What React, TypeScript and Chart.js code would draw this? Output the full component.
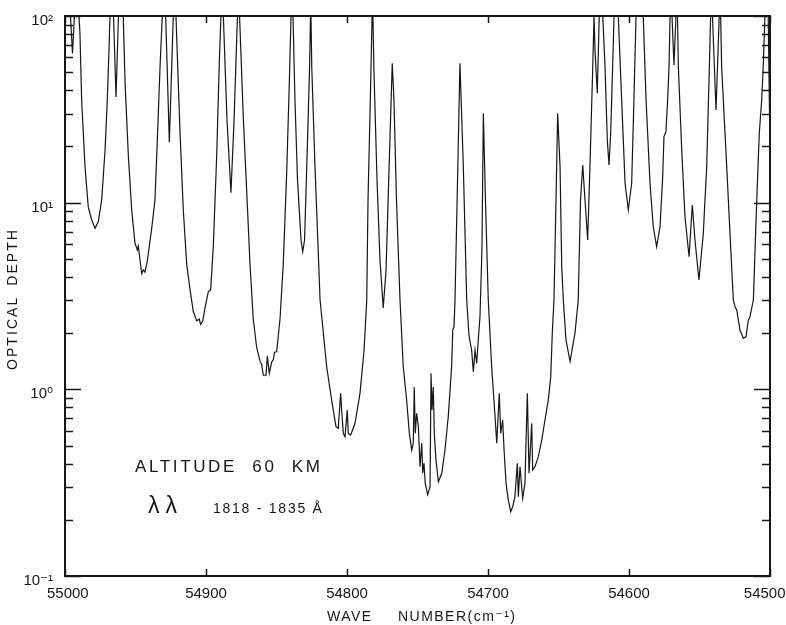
import React, { useEffect, useRef } from 'react';
import { Chart, registerables } from 'chart.js';

Chart.register(...registerables);

// Wave number (cm^-1) of each traced point, and the optical depth read there.
// Values of 300 / 120 / 130 stand for the trace running off the top (> 100).
const wavenumbers = [
  55000, 54996.1, 54994.7, 54993.3, 54991.8, 54990.1, 54989.4, 54988.2, 54985.8, 54983.5,
  54981.1, 54978.7, 54976.4, 54974.0, 54971.6, 54970.0, 54968.8, 54968.1, 54966.7, 54965.6,
  54963.8, 54962.1, 54960.3, 54958.7, 54957.4, 54955.1, 54952.7, 54950.4, 54948.7, 54948.0,
  54945.6, 54944.5, 54943.3, 54941.6, 54938.5, 54936.2, 54934.8, 54932.6, 54931.0, 54929.8,
  54928.6, 54926.0, 54923.2, 54922.2, 54921.3, 54918.4, 54916.1, 54913.7, 54911.3, 54909.0,
  54906.6, 54904.8, 54903.8, 54902.3, 54900.7, 54898.4, 54896.7, 54894.8, 54892.4, 54890.6,
  54889.4, 54888.5, 54887.7, 54885.1, 54882.3, 54880.1, 54877.7, 54876.9, 54876.2, 54873.5,
  54871.1, 54868.8, 54866.5, 54864.0, 54861.7, 54860.5, 54859.4, 54857.4, 54856.5, 54855.1,
  54853.4, 54852.3, 54851.4, 54849.9, 54847.5, 54845.2, 54842.8, 54840.9, 54839.7, 54839.0,
  54838.3, 54836.9, 54835.1, 54832.6, 54831.4, 54830.1, 54828.4, 54826.6, 54825.7, 54825.0,
  54822.7, 54819.1, 54814.4, 54810.9, 54807.8, 54806.2, 54804.5, 54803.8, 54802.6, 54801.4,
  54799.8, 54799.1, 54797.4, 54794.3, 54790.8, 54787.9, 54786.0, 54785.1, 54783.3, 54781.9,
  54780.9, 54778.7, 54776.6, 54774.3, 54772.3, 54770.2, 54767.9, 54766.7, 54764.9, 54762.4,
  54760.1, 54757.7, 54755.8, 54754.1, 54753.0, 54752.3, 54751.6, 54750.6, 54749.4, 54748.2,
  54747.0, 54746.3, 54745.4, 54744.5, 54742.8, 54741.1, 54740.4, 54739.7, 54738.8, 54738.1,
  54736.9, 54735.2, 54732.8, 54730.5, 54728.2, 54725.8, 54725.0, 54724.1, 54723.4, 54721.6,
  54719.9, 54718.8, 54717.5, 54715.1, 54713.5, 54711.6, 54710.4, 54709.2, 54708.0, 54706.9,
  54705.7, 54704.3, 54703.3, 54701.8, 54699.8, 54697.4, 54695.0, 54693.8, 54692.0, 54691.0,
  54689.6, 54688.6, 54687.2, 54685.6, 54683.9, 54682.5, 54680.9, 54679.2, 54678.5, 54677.3,
  54676.1, 54675.4, 54673.8, 54672.1, 54670.9, 54669.0, 54668.3, 54666.7, 54664.3, 54661.9,
  54659.6, 54657.2, 54655.5, 54654.4, 54653.2, 54651.3, 54650.6, 54648.9, 54647.7, 54646.6,
  54644.7, 54641.8, 54638.3, 54636.0, 54634.4, 54632.8, 54631.2, 54629.3, 54627.7, 54625.7,
  54624.8, 54624.1, 54622.5, 54621.1, 54619.9, 54618.6, 54617.0, 54615.4, 54614.2, 54613.0,
  54611.6, 54610.6, 54609.2, 54607.6, 54605.2, 54602.8, 54600.5, 54598.1, 54596.5, 54595.0,
  54592.2, 54589.9, 54587.9, 54585.1, 54582.8, 54580.4, 54578.0, 54576.1, 54575.2, 54573.8,
  54572.6, 54571.6, 54570.9, 54570.2, 54569.5, 54568.1, 54566.7, 54566.0, 54565.6, 54565.0,
  54562.6, 54560.3, 54557.4, 54555.1, 54553.2, 54550.4, 54547.3, 54544.9, 54543.0, 54542.1,
  54541.5, 54540.8, 54538.3, 54536.0, 54535.5, 54535.0, 54534.3, 54530.7, 54527.2, 54526.0,
  54524.8, 54523.6, 54521.3, 54518.9, 54517.0, 54515.4, 54514.2, 54511.8, 54509.4, 54507.6,
  54505.9, 54504.8, 54503.6, 54502.1, 54500,
];

const opticalDepth = [
  300, 100, 63, 100, 300, 100, 81, 35.5, 15.5, 9.5,
  8.1, 7.3, 7.9, 10.3, 19.1, 35.5, 65.7, 100, 300, 100,
  36.8, 100, 300, 100, 43.8, 18.0, 9.14, 6.08, 5.58, 5.86,
  4.17, 4.36, 4.25, 4.87, 7.31, 10.3, 19.1, 53.3, 100, 300,
  100, 21.1, 100, 300, 100, 23.6, 9.14, 4.69, 3.41, 2.61,
  2.33, 2.38, 2.23, 2.32, 2.73, 3.33, 3.41, 5.86, 18.0, 55.0,
  100, 300, 100, 27.7, 11.3, 27.7, 100, 300, 100, 28.1,
  11.4, 4.69, 2.38, 1.66, 1.42, 1.36, 1.19, 1.19, 1.51, 1.22,
  1.40, 1.44, 1.58, 1.59, 2.38, 4.69, 14.3, 43.9, 100, 300,
  100, 35.5, 13.2, 6.31, 5.46, 6.31, 16.9, 51.4, 120, 53.5,
  15.6, 3.01, 1.32, 0.877, 0.631, 0.618, 0.952, 0.775, 0.581, 0.557,
  0.775, 0.581, 0.569, 0.658, 0.952, 1.62, 3.01, 10.3, 40.1, 130,
  51.4, 13.2, 4.93, 2.73, 4.36, 15.0, 55.8, 35.5, 10.3, 3.01,
  1.32, 0.877, 0.581, 0.473, 0.516, 1.03, 0.581, 0.744, 0.631, 0.385,
  0.516, 0.356, 0.403, 0.314, 0.272, 0.301, 1.22, 0.775, 1.03, 0.581,
  0.418, 0.320, 0.355, 0.473, 0.713, 1.32, 2.08, 2.17, 3.01, 13.2,
  55.8, 31.4, 15.6, 3.01, 1.95, 1.62, 1.24, 1.62, 1.38, 1.84,
  2.45, 5.58, 30.1, 10.3, 3.01, 1.32, 0.713, 0.514, 0.952, 0.581,
  0.685, 0.473, 0.314, 0.255, 0.221, 0.235, 0.266, 0.402, 0.266, 0.385,
  0.301, 0.261, 0.314, 0.952, 0.355, 0.658, 0.370, 0.385, 0.436, 0.535,
  0.685, 0.877, 1.17, 2.00, 3.01, 15.6, 30.1, 15.6, 4.54, 3.01,
  1.84, 1.41, 2.00, 3.01, 10.3, 15.9, 10.3, 6.31, 15.6, 53.5,
  100, 65.7, 38.5, 100, 300, 100, 53.5, 21.7, 15.9, 23.5,
  53.5, 100, 300, 100, 35.5, 12.7, 9.14, 12.7, 35.5, 100,
  300, 100, 35.5, 12.7, 7.43, 5.81, 7.43, 13.8, 22.6, 24.0,
  35.5, 53.5, 100, 300, 100, 54.6, 100, 300, 100, 53.5,
  19.1, 8.41, 5.13, 9.72, 6.31, 3.85, 6.85, 15.6, 53.5, 100,
  300, 100, 31.4, 100, 300, 100, 53.5, 15.6, 4.54, 3.01,
  2.77, 2.66, 2.08, 1.88, 1.91, 2.35, 2.45, 3.01, 10.3, 23.5,
  35.5, 53.5, 100, 300, 19.1,
];

const xTickValues = [55000, 54900, 54800, 54700, 54600, 54500];
const yDecades = [0.1, 1, 10, 100];
const yMinorSteps = [2, 3, 4, 5, 6, 7, 8, 9];

const xTitle = 'WAVE NUMBER(cm\u207B\u00B9)';
const yTitle = 'OPTICAL DEPTH';
const altitudeText = 'ALTITUDE 60 KM';
const lambdaText = '\u03BB\u03BB';
const rangeText = '1818 - 1835 \u00C5';

const SUP: Record<string, string> = { '-': '\u207B', '0': '\u2070', '1': '\u00B9', '2': '\u00B2', '3': '\u00B3' };
const FONT = '"Liberation Sans", "DejaVu Sans", Arial, sans-serif';
const INK = '#161616';

function decadeLabel(v: number): string {
  const e = Math.log10(v);
  const r = Math.round(e);
  if (Math.abs(e - r) > 1e-6) return '';
  return '10' + String(r).split('').map((c) => SUP[c] ?? c).join('');
}

// draws text starting at x so that it spans `width` px, spreading letters evenly;
// `wordGap` adds extra room at each space.
function drawFitted(
  ctx: CanvasRenderingContext2D,
  text: string,
  x: number,
  y: number,
  width: number,
  font: string,
  wordGap = 0,
) {
  const c = ctx as any;
  ctx.font = font;
  c.letterSpacing = '0px';
  c.wordSpacing = '0px';
  const w = ctx.measureText(text).width;
  const chars = Array.from(text);
  const n = chars.length;
  const spaces = chars.filter((ch) => ch === ' ').length;
  const sp = n > 1 ? (width - w - wordGap * spaces) / (n - 1) : 0;
  c.letterSpacing = sp.toFixed(2) + 'px';
  c.wordSpacing = wordGap + 'px';
  ctx.textAlign = 'left';
  ctx.textBaseline = 'alphabetic';
  ctx.fillText(text, x, y);
  c.letterSpacing = '0px';
  c.wordSpacing = '0px';
}

const framePlugin = {
  id: 'plotterFrame',
  afterDraw(chart: any) {
    const { ctx, chartArea: a, scales } = chart;
    const xs = scales.x;
    const ys = scales.y;
    ctx.save();
    ctx.strokeStyle = INK;
    ctx.fillStyle = INK;
    ctx.lineCap = 'butt';
    // inward ticks, left and right
    ctx.lineWidth = 1.5;
    ctx.beginPath();
    yDecades.forEach((d, i) => {
      const steps = i < yDecades.length - 1 ? [1, ...yMinorSteps] : [1];
      steps.forEach((m) => {
        const py = Math.round(ys.getPixelForValue(d * m)) + 0.5;
        const len = m === 1 ? 16 : 8;
        ctx.moveTo(a.left, py);
        ctx.lineTo(a.left + len, py);
        ctx.moveTo(a.right, py);
        ctx.lineTo(a.right - len, py);
      });
    });
    // inward ticks, bottom and top
    xTickValues.forEach((v) => {
      const px = Math.round(xs.getPixelForValue(v)) + 0.5;
      ctx.moveTo(px, a.bottom);
      ctx.lineTo(px, a.bottom - 7);
      ctx.moveTo(px, a.top);
      ctx.lineTo(px, a.top + 7);
    });
    ctx.stroke();
    // frame
    ctx.lineWidth = 2;
    ctx.strokeRect(a.left, a.top, a.right - a.left, a.bottom - a.top);

    // x tick labels (kept inside the page at both ends)
    ctx.font = `15px ${FONT}`;
    ctx.textAlign = 'center';
    ctx.textBaseline = 'alphabetic';
    xTickValues.forEach((v) => {
      const label = String(v);
      const half = ctx.measureText(label).width / 2;
      const px = xs.getPixelForValue(v);
      const cx = Math.min(Math.max(px, 47 + half), chart.width - half - 0.5);
      ctx.fillText(label, cx, 598);
    });

    // axis titles
    drawFitted(ctx, xTitle, 327, 621, 188, `14px ${FONT}`, 20);
    ctx.save();
    ctx.translate(17, 370);
    ctx.rotate(-Math.PI / 2);
    drawFitted(ctx, yTitle, 0, 0, 140, `14px ${FONT}`, 4);
    ctx.restore();

    // annotations
    drawFitted(ctx, altitudeText, 135, 472, 185, `17px ${FONT}`, 8);
    drawFitted(ctx, lambdaText, 148, 513, 29, `23px ${FONT}`);
    drawFitted(ctx, rangeText, 213, 513, 109, `14px ${FONT}`);
    ctx.restore();
  },
};

export default function App() {
  const ref = useRef<HTMLCanvasElement>(null);
  useEffect(() => {
    const canvas = ref.current;
    if (!canvas) return;
    const points = wavenumbers.map((x, i) => ({ x, y: opticalDepth[i] }));
    const chart = new Chart(canvas, {
      type: 'line',
      data: {
        datasets: [
          {
            data: points,
            borderColor: INK,
            borderWidth: 1.2,
            pointRadius: 0,
            tension: 0,
            fill: false,
          },
        ],
      },
      options: {
        animation: false,
        responsive: false,
        devicePixelRatio: 1,
        layout: { padding: { left: 0, top: 16, right: 16, bottom: 0 } },
        plugins: { legend: { display: false }, tooltip: { enabled: false } },
        scales: {
          x: {
            type: 'linear',
            min: 54500,
            max: 55000,
            reverse: true,
            afterBuildTicks: (s: any) => {
              s.ticks = xTickValues.map((v) => ({ value: v }));
            },
            ticks: { display: false },
            grid: { display: false, drawTicks: false },
            border: { display: false },
            afterFit: (s: any) => {
              s.height = 49;
              s.paddingLeft = 0;
              s.paddingRight = 0;
            },
          },
          y: {
            type: 'logarithmic',
            min: 0.1,
            max: 100,
            afterBuildTicks: (s: any) => {
              s.ticks = yDecades.map((v) => ({ value: v, major: true }));
            },
            ticks: {
              callback: (v: any) => decadeLabel(Number(v)),
              font: { family: FONT, size: 15 },
              color: INK,
              padding: 12,
              labelOffset: 5,
              autoSkip: false,
            },
            grid: { display: false, drawTicks: false },
            border: { display: false },
            afterFit: (s: any) => {
              s.width = 65;
              s.paddingTop = 0;
              s.paddingBottom = 0;
            },
          },
        },
      },
      plugins: [framePlugin],
    } as any);
    return () => chart.destroy();
  }, []);
  return (
    <div style={{ position: 'fixed', left: 0, top: 0, width: 786, height: 625, background: '#fff' }}>
      <canvas ref={ref} width={786} height={625} style={{ display: 'block' }} />
    </div>
  );
}
